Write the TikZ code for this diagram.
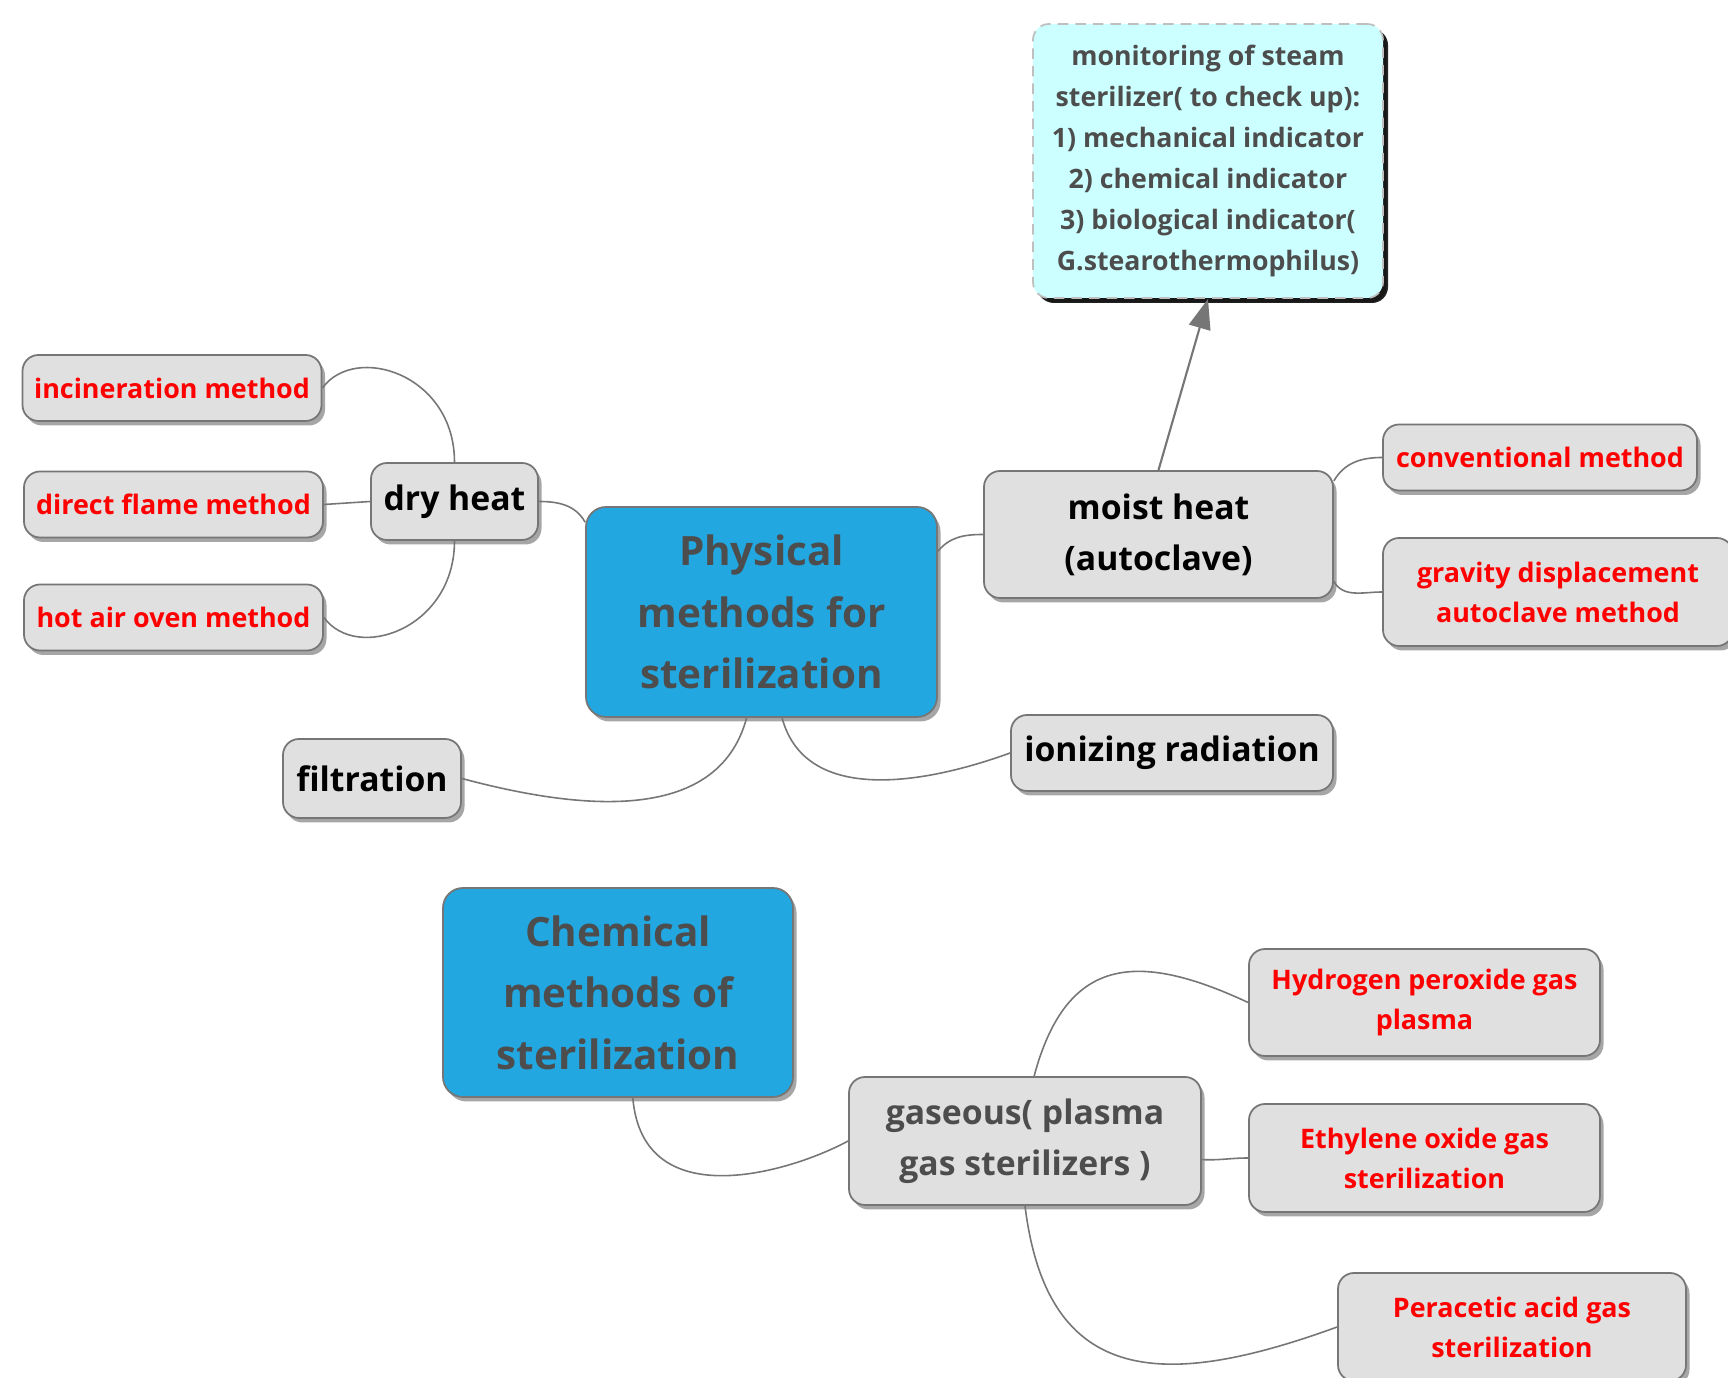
\documentclass[tikz,border=0pt]{standalone}
\usepackage{fontspec}
\setmainfont{Open Sans}
\usetikzlibrary{shapes, arrows.meta, positioning, calc, shadows}

\definecolor{rootblue}{RGB}{34, 167, 224}
\definecolor{boxgray}{RGB}{224, 224, 224}
\definecolor{edgegray}{RGB}{118, 118, 118}
\definecolor{textgray}{RGB}{77, 77, 77}
\definecolor{leafred}{RGB}{255, 0, 0}
\definecolor{notecyan}{RGB}{204, 255, 255}

\newcommand{\rootfont}{\fontsize{11.5}{17.5}\selectfont\bfseries}
\newcommand{\branchfont}{\fontsize{9.6}{14.5}\selectfont\bfseries}
\newcommand{\leaffont}{\fontsize{7.65}{11.4}\selectfont\bfseries}
\newcommand{\notetextfont}{\fontsize{7.6}{11.7}\selectfont\bfseries}

\tikzset{
  box/.style={draw=edgegray, fill=boxgray, line width=0.5pt, rounded corners=0.16cm,
    align=center, inner sep=0pt,
    drop shadow={shadow xshift=0.035cm, shadow yshift=-0.045cm, opacity=0.35, fill=black}},
  leaf/.style={box, text=leafred, font=\leaffont},
  branch/.style={box, text=black, font=\branchfont},
  root/.style={box, fill=rootblue, text=textgray, font=\rootfont, rounded corners=0.2cm},
  note/.style={box, draw=gray!50, densely dashed, fill=notecyan, text=textgray, font=\notetextfont,
    drop shadow={shadow xshift=0.05cm, shadow yshift=-0.05cm, opacity=0.85, fill=black}},
  link/.style={draw=edgegray, line width=0.45pt}
}

\begin{document}
\begin{tikzpicture}
  \path[use as bounding box, fill=white] (0, 0) rectangle (17.28, -13.78);

  % Physical methods
  \node[root, minimum width=3.51cm, minimum height=2.1cm] (phys) at (7.615, -6.12) {Physical\\methods for\\sterilization};

  % Dry heat and its methods
  \node[branch, minimum width=1.67cm, minimum height=0.77cm] (dry) at (4.545, -5.015) {dry heat};
  \node[leaf, minimum width=2.99cm, minimum height=0.66cm] (inc) at (1.72, -3.88) {incineration method};
  \node[leaf, minimum width=2.99cm, minimum height=0.66cm] (flame) at (1.735, -5.045) {direct flame method};
  \node[leaf, minimum width=2.99cm, minimum height=0.66cm] (oven) at (1.735, -6.175) {hot air oven method};
  \draw[link] (inc.east) .. controls +(0.33, 0.45) and +(0, 0.88) .. (dry.north);
  \draw[link] (flame.east) -- (dry.west);
  \draw[link] (oven.east) .. controls +(0.33, -0.45) and +(0, -0.88) .. (dry.south);
  \draw[link] (dry.east) to[out=0, in=120] (phys.153);

  % Moist heat and its methods
  \node[branch, minimum width=3.49cm, minimum height=1.27cm] (moist) at (11.585, -5.345) {moist heat\\(autoclave)};
  \node[leaf, minimum width=3.14cm, minimum height=0.66cm] (conv) at (15.4, -4.575) {conventional method};
  \node[leaf, minimum width=3.5cm, minimum height=1.08cm] (grav) at (15.58, -5.92) {gravity displacement\\autoclave method};
  \draw[link] (phys.19) to[out=50, in=180] (moist.west);
  \draw[link] (moist.17) to[out=60, in=180] (conv.west);
  \draw[link] (moist.-15) to[out=-60, in=180] (grav.west);

  % Monitoring note
  \node[note, minimum width=3.5cm, minimum height=2.74cm] (mon) at (12.08, -1.61) {monitoring of steam\\sterilizer( to check up):\\1) mechanical indicator\\2) chemical indicator\\3) biological indicator(\\G.stearothermophilus)};
  \draw[-{Triangle[length=0.3cm, width=0.22cm]}, edgegray, line width=0.6pt] (moist.north) -- (mon.south);

  % Filtration and radiation
  \node[branch, minimum width=1.78cm, minimum height=0.79cm] (filt) at (3.72, -7.785) {filtration};
  \node[branch, minimum width=3.22cm, minimum height=0.76cm] (ion) at (11.72, -7.53) {ionizing radiation};
  \draw[link] (phys.262) to[out=-105, in=-15] (filt.east);
  \draw[link] (phys.281) to[out=-75, in=200] (ion.west);

  % Chemical methods
  \node[root, minimum width=3.5cm, minimum height=2.09cm] (chem) at (6.18, -9.925) {Chemical\\methods of\\sterilization};
  \node[box, text=textgray, font=\branchfont, minimum width=3.52cm, minimum height=1.28cm] (gas) at (10.25, -11.41) {gaseous( plasma\\gas sterilizers )};
  \draw[link] (chem.278) .. controls +(0.1, -1.2) and +(-0.55, -0.3) .. (gas.west);

  % Gas sterilizers
  \node[leaf, minimum width=3.51cm, minimum height=1.07cm] (hyd) at (14.245, -10.025) {Hydrogen peroxide gas\\plasma};
  \node[leaf, minimum width=3.51cm, minimum height=1.08cm] (eth) at (14.245, -11.58) {Ethylene oxide gas\\sterilization};
  \node[leaf, minimum width=3.48cm, minimum height=1.08cm] (per) at (15.12, -13.27) {Peracetic acid gas\\sterilization};
  \draw[link] (gas.82) to[out=75, in=155, looseness=1.4] (hyd.west);
  \draw[link] (gas.-6) to[out=-3, in=180] (eth.west);
  \draw[link] (gas.south) to[out=-83, in=200, looseness=1.4] (per.west);
\end{tikzpicture}
\end{document}
